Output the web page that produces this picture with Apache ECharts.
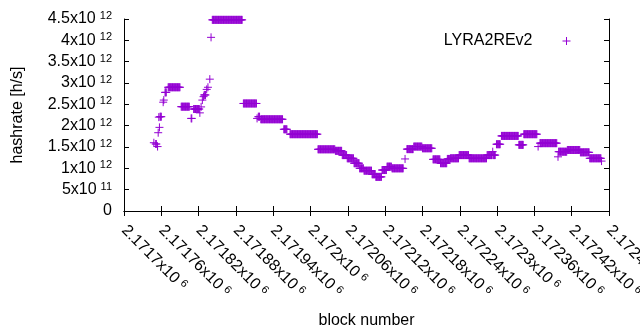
<!DOCTYPE html>
<html>
<head>
<meta charset="utf-8">
<script src="https://cdn.jsdelivr.net/npm/echarts@6/dist/echarts.min.js"></script>
<style>
html, body { margin: 0; padding: 0; background: #fff; }
#chart { width: 640px; height: 330px; }
</style>
</head>
<body>
<div id="chart"></div>
<script>
// runs of consecutive blocks: first block, last block, hashrate (x10^12 h/s)
var runStart = [2171748, 2171751, 2171754, 2171755, 2171756, 2171757, 2171758, 2171763, 2171764, 2171766,
    2171771, 2171792, 2171808, 2171812, 2171822, 2171824, 2171826, 2171828, 2171829, 2171833,
    2171835, 2171838, 2171840, 2171842, 2171892, 2171914, 2171916, 2171920, 2171957, 2171967,
    2172012, 2172040, 2172051, 2172059, 2172070, 2172079, 2172086, 2172099, 2172105, 2172115,
    2172123, 2172131, 2172152, 2172155, 2172166, 2172180, 2172197, 2172209, 2172220, 2172225,
    2172239, 2172255, 2172284, 2172293, 2172294, 2172299, 2172307, 2172335, 2172343, 2172366,
    2172369, 2172398, 2172399, 2172413, 2172434, 2172449, 2172468];
var runEnd = [2171748, 2171752, 2171754, 2171755, 2171756, 2171757, 2171760, 2171763, 2171764, 2171768,
    2171790, 2171805, 2171809, 2171821, 2171822, 2171824, 2171826, 2171828, 2171831, 2171833,
    2171835, 2171838, 2171840, 2171890, 2171913, 2171914, 2171918, 2171955, 2171962, 2172011,
    2172039, 2172050, 2172058, 2172069, 2172078, 2172085, 2172098, 2172104, 2172114, 2172122,
    2172130, 2172149, 2172152, 2172165, 2172179, 2172195, 2172208, 2172219, 2172224, 2172238,
    2172254, 2172283, 2172292, 2172293, 2172297, 2172305, 2172334, 2172342, 2172364, 2172366,
    2172396, 2172398, 2172412, 2172433, 2172448, 2172467, 2172468];
var runRate = [1.60, 1.57, 1.51, 1.835, 2.20, 1.96, 2.21, 2.55, 2.60, 2.78,
    2.90, 2.445, 2.17, 2.39, 2.30, 2.44, 2.60, 2.68, 2.72, 2.85,
    2.90, 3.09, 4.07, 4.48, 2.52, 2.17, 2.21, 2.15, 1.915, 1.80,
    1.446, 1.41, 1.31, 1.235, 1.12, 1.00, 0.945, 0.86, 0.80, 0.96,
    1.04, 1.00, 1.22, 1.45, 1.51, 1.47, 1.21, 1.12, 1.22, 1.235,
    1.31, 1.235, 1.31, 1.39, 1.31, 1.565, 1.76, 1.55, 1.80, 1.51,
    1.59, 1.27, 1.39, 1.43, 1.375, 1.235, 1.17];

var seriesName = 'LYRA2REv2';
var xMin = 2171700, xMax = 2172480, xStep = 60;
var yMin = 0, yMax = 4.5e12, yStep = 0.5e12;

var points = [];
for (var i = 0; i < runStart.length; i++) {
    for (var b = runStart[i]; b <= runEnd[i]; b++) {
        points.push([b, runRate[i] * 1e12]);
    }
}

var font = 'Liberation Sans';
var purple = '#9400D3';
var plus = 'path://M5,0L5,10M0,5L10,5';
var rich = {
    sup: { fontSize: 11, color: '#000', fontFamily: font, padding: [0, 0, 6, 4] }
};

function yLabel(v) {
    if (v === 0) return '0';
    var e = Math.floor(Math.log10(v) + 1e-9);
    var m = parseFloat((v / Math.pow(10, e)).toPrecision(6));
    return m + 'x10{sup|' + e + '}';
}
function xLabel(v) {
    return parseFloat((v / 1e6).toFixed(6)) + 'x10{sup|6}';
}

var lineBlack = { color: '#000', width: 1 };

var myChart = echarts.init(document.getElementById('chart'));
myChart.setOption({
    animation: false,
    grid: { left: 124, right: 31, top: 19, bottom: 119, outerBoundsMode: 'none', containLabel: false },
    legend: {
        data: [{ name: seriesName, icon: plus }],
        align: 'right',
        right: 64,
        top: 28,
        itemWidth: 58,
        itemHeight: 8,
        itemStyle: { color: purple, borderColor: purple, borderWidth: 1 },
        textStyle: { fontSize: 16, color: '#000', fontFamily: font }
    },
    xAxis: [{
        type: 'value',
        min: xMin, max: xMax, interval: xStep,
        position: 'bottom',
        name: 'block number',
        nameLocation: 'middle',
        nameGap: 102,
        nameTextStyle: { fontSize: 16, color: '#000', fontFamily: font },
        axisLine: { lineStyle: lineBlack },
        axisTick: { inside: true, length: 5, lineStyle: lineBlack },
        axisLabel: { rotate: -45, margin: 17, fontSize: 16, color: '#000', fontFamily: font,
            formatter: xLabel, rich: rich, showMaxLabel: true, showMinLabel: true, hideOverlap: false },
        splitLine: { show: false }
    }, {
        type: 'value',
        min: xMin, max: xMax, interval: xStep,
        position: 'top',
        axisLine: { lineStyle: lineBlack },
        axisTick: { inside: true, length: 5, lineStyle: lineBlack },
        axisLabel: { show: false },
        splitLine: { show: false }
    }],
    yAxis: [{
        type: 'value',
        min: yMin, max: yMax, interval: yStep,
        position: 'left',
        name: 'hashrate [h/s]',
        nameLocation: 'middle',
        nameGap: 98,
        nameTextStyle: { fontSize: 16, color: '#000', fontFamily: font },
        axisLine: { show: true, lineStyle: lineBlack },
        axisTick: { show: true, inside: true, length: 5, lineStyle: lineBlack },
        axisLabel: { margin: 12, fontSize: 16, color: '#000', fontFamily: font, formatter: yLabel, rich: rich },
        splitLine: { show: false }
    }, {
        type: 'value',
        min: yMin, max: yMax, interval: yStep,
        position: 'right',
        axisLine: { show: true, lineStyle: lineBlack },
        axisTick: { show: true, inside: true, length: 5, lineStyle: lineBlack },
        axisLabel: { show: false },
        splitLine: { show: false }
    }],
    series: [{
        name: seriesName,
        type: 'scatter',
        xAxisIndex: 0,
        yAxisIndex: 0,
        symbol: plus,
        symbolSize: 8,
        itemStyle: { color: purple, borderColor: purple, borderWidth: 1, opacity: 1 },
        data: points
    }]
});
</script>
</body>
</html>
